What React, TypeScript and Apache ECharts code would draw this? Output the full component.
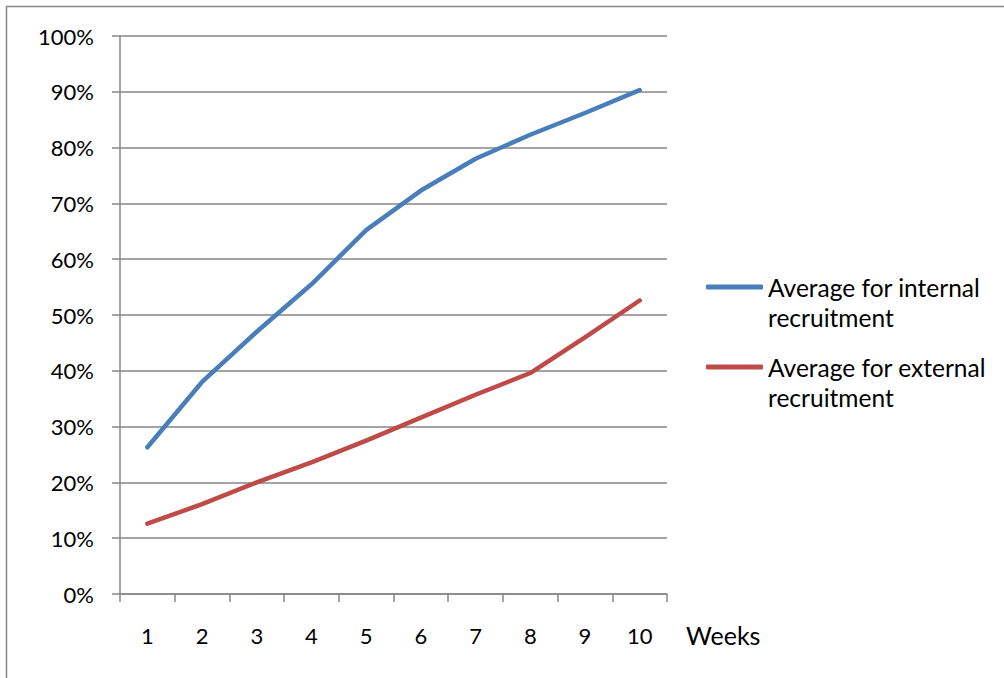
import React, { useEffect, useRef } from "react";
import * as echarts from "echarts";

const weeks = ["1", "2", "3", "4", "5", "6", "7", "8", "9", "10"];
const internalAvg = [0.263, 0.38, 0.47, 0.555, 0.652, 0.723, 0.78, 0.823, 0.862, 0.903];
const externalAvg = [0.126, 0.161, 0.2, 0.236, 0.275, 0.316, 0.357, 0.396, 0.46, 0.526];
const seriesNames = ["Average for internal recruitment", "Average for external recruitment"];
const legendLines: Record<string, string[]> = {
  [seriesNames[0]]: ["Average for internal", "recruitment"],
  [seriesNames[1]]: ["Average for external", "recruitment"],
};
const axisName = "Weeks";

const FONT = "Lato, 'Open Sans', sans-serif";
const GRAY = "#868686";

export default function App() {
  const ref = useRef<HTMLDivElement>(null);
  useEffect(() => {
    if (!ref.current) return;
    const chart = echarts.init(ref.current, null, { renderer: "svg" });
    chart.setOption({
      animation: false,
      backgroundColor: "#ffffff",
      textStyle: { fontFamily: FONT },
      graphic: [
        {
          type: "rect",
          shape: { x: 6.5, y: 6.5, width: 1200, height: 900 },
          style: { fill: "none", stroke: GRAY, lineWidth: 1.5 },
          silent: true,
        },
      ],
      grid: { left: 120, right: 337, top: 36, bottom: 84 },
      legend: {
        orient: "vertical",
        left: 706,
        top: 242,
        padding: 0,
        itemGap: -10,
        itemWidth: 57,
        itemHeight: 5,
        icon: "roundRect",
        formatter: (name: string) => {
          const l = legendLines[name] || [name];
          return "{e| }\n" + l.map((s) => "{a|" + s + "}").join("\n");
        },
        textStyle: {
          fontFamily: FONT,
          fontSize: 24.5,
          color: "#000",
          lineHeight: 30,
          rich: {
            e: { lineHeight: 30, fontSize: 10 },
            a: { lineHeight: 30, fontSize: 24.5, fontFamily: FONT, color: "#000" },
          },
        },
        data: seriesNames,
      },
      xAxis: {
        type: "category",
        data: weeks,
        boundaryGap: true,
        name: axisName,
        nameLocation: "end",
        nameGap: 19,
        nameTextStyle: {
          fontFamily: FONT,
          fontSize: 25,
          color: "#000",
          align: "left",
          verticalAlign: "top",
          padding: [28, 0, 0, 0],
        },
        axisLine: { lineStyle: { color: GRAY, width: 1.5 } },
        axisTick: { show: true, length: 8, inside: false, lineStyle: { color: GRAY, width: 1.5 } },
        axisLabel: { fontFamily: FONT, fontSize: 22, color: "#000", margin: 30 },
        splitLine: { show: false },
      },
      yAxis: {
        type: "value",
        min: 0,
        max: 1,
        interval: 0.1,
        axisLine: { show: true, lineStyle: { color: GRAY, width: 1.5 } },
        axisTick: { show: true, length: 8, inside: false, lineStyle: { color: GRAY, width: 1.5 } },
        axisLabel: {
          fontFamily: FONT,
          fontSize: 22,
          color: "#000",
          margin: 26,
          formatter: (v: number) => Math.round(v * 100) + "%",
        },
        splitLine: { show: true, lineStyle: { color: GRAY, width: 1.5 } },
      },
      series: [
        {
          name: seriesNames[0],
          type: "line",
          data: internalAvg,
          showSymbol: false,
          symbol: "none",
          lineStyle: { color: "#4A7EBB", width: 4.5, cap: "round", join: "round" },
          itemStyle: { color: "#4A7EBB" },
        },
        {
          name: seriesNames[1],
          type: "line",
          data: externalAvg,
          showSymbol: false,
          symbol: "none",
          lineStyle: { color: "#BE4B48", width: 4.5, cap: "round", join: "round" },
          itemStyle: { color: "#BE4B48" },
        },
      ],
    });
    return () => chart.dispose();
  }, []);
  return (
    <div
      ref={ref}
      style={{ position: "fixed", left: 0, top: 0, width: 1004, height: 678, background: "#fff" }}
    />
  );
}
